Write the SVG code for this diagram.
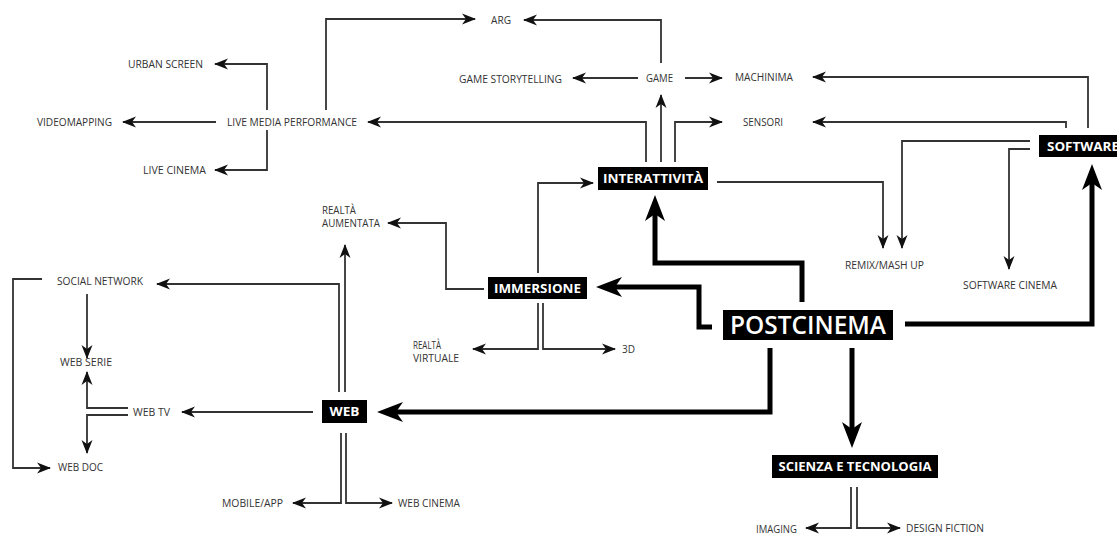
<svg xmlns="http://www.w3.org/2000/svg" width="1117" height="536" viewBox="0 0 1117 536">
<style>
.lbl{font-family:"Open Sans","Liberation Sans",sans-serif;font-size:11px;fill:#333;}
.sm{font-size:10px;}
.box{fill:#000;}
.bt{font-family:"Open Sans","Liberation Sans",sans-serif;font-size:13px;font-weight:bold;fill:#fff;}
.big{font-family:"Open Sans","Liberation Sans",sans-serif;font-size:26px;font-weight:600;fill:#fff;}
.thin{fill:none;stroke:#333;stroke-width:1.8;marker-end:url(#ah);}
.thick{fill:none;stroke:#000;stroke-width:5;marker-end:url(#AH);}
</style>
<defs>
<marker id="ah" markerUnits="userSpaceOnUse" markerWidth="14" markerHeight="11" refX="13" refY="5.5" orient="auto" overflow="visible">
<path d="M0,0 L14,5.5 L0,11 L4,5.5 z" fill="#111"/>
</marker>
<marker id="AH" markerUnits="userSpaceOnUse" markerWidth="26" markerHeight="20" refX="7" refY="10" orient="auto" overflow="visible">
<path d="M0,0 L26,10 L0,20 L7,10 z" fill="#000"/>
</marker>
</defs>
<rect width="1117" height="536" fill="#fff"/>

<g id="connectors">
<path class="thin" d="M267,110 V64 H215"/>
<path class="thin" d="M216,122 H123"/>
<path class="thin" d="M267,130 V170 H215"/>
<path class="thin" d="M326,110 V19 H475"/>
<path class="thin" d="M661,63 V20 H524"/>
<path class="thin" d="M638,78 H573"/>
<path class="thin" d="M685,78 H722"/>
<path class="thin" d="M661,162 V95"/>
<path class="thin" d="M646,162 V122 H368"/>
<path class="thin" d="M675,162 V122 H722"/>
<path class="thin" d="M1088,128 V77 H813"/>
<path class="thin" d="M1066,128 V122 H813"/>
<path class="thin" d="M1030,141 H902 V248"/>
<path class="thin" d="M1030,149 H1009 V269"/>
<path class="thin" d="M717,182 H883 V248"/>
<path class="thin" d="M538,273 V183 H593"/>
<path class="thin" d="M484,289 H446 V223 H388"/>
<path class="thin" d="M538,303 V349 H473"/>
<path class="thin" d="M543,303 V349 H615"/>
<path class="thin" d="M339,392 V284 H157"/>
<path class="thin" d="M345,392 V245"/>
<path class="thin" d="M87,294 V358"/>
<path class="thin" d="M42,279 H13 V468 H50"/>
<path class="thin" d="M313,412 H182"/>
<path class="thin" d="M128,408 H87 V372"/>
<path class="thin" d="M128,415 H87 V453"/>
<path class="thin" d="M341,433 V503 H293"/>
<path class="thin" d="M346,433 V503 H392"/>
<path class="thin" d="M851,487 V528 H806"/>
<path class="thin" d="M857,487 V528 H900"/>
<path class="thick" d="M802,302 V263 H655 V214"/>
<path class="thick" d="M712,327 H699 V287 H615"/>
<path class="thick" d="M905,324 H1092 V183"/>
<path class="thick" d="M770,348 V412 H396"/>
<path class="thick" d="M852,348 V429"/>
</g>

<g id="postcinema"><rect class="box" x="723" y="310" width="170" height="30"/><text class="big" x="808" y="334" text-anchor="middle" textLength="156" lengthAdjust="spacingAndGlyphs">POSTCINEMA</text></g>
<g id="interattivita"><rect class="box" x="598" y="167" width="110" height="23"/><text class="bt" x="653" y="183" text-anchor="middle" textLength="100" lengthAdjust="spacingAndGlyphs">INTERATTIVITÀ</text></g>
<g id="immersione"><rect class="box" x="488" y="277" width="99" height="22"/><text class="bt" x="537.5" y="292.5" text-anchor="middle" textLength="87" lengthAdjust="spacingAndGlyphs">IMMERSIONE</text></g>
<g id="web"><rect class="box" x="322" y="400" width="45" height="23"/><text class="bt" x="344.5" y="416" text-anchor="middle" textLength="30" lengthAdjust="spacingAndGlyphs">WEB</text></g>
<g id="software"><rect class="box" x="1039" y="135" width="90" height="22"/><text class="bt" x="1047" y="150.5" textLength="72" lengthAdjust="spacingAndGlyphs">SOFTWARE</text></g>
<g id="scienza"><rect class="box" x="772" y="455" width="166" height="23"/><text class="bt" x="855" y="471" text-anchor="middle" textLength="153" lengthAdjust="spacingAndGlyphs">SCIENZA E TECNOLOGIA</text></g>

<g id="urban-screen"><text class="lbl" x="128" y="68" textLength="75" lengthAdjust="spacingAndGlyphs">URBAN SCREEN</text></g>
<g id="videomapping"><text class="lbl" x="37" y="126" textLength="75" lengthAdjust="spacingAndGlyphs">VIDEOMAPPING</text></g>
<g id="live-media"><text class="lbl" x="227" y="126" textLength="130" lengthAdjust="spacingAndGlyphs">LIVE MEDIA PERFORMANCE</text></g>
<g id="live-cinema"><text class="lbl" x="143" y="174" textLength="63" lengthAdjust="spacingAndGlyphs">LIVE CINEMA</text></g>
<g id="arg"><text class="lbl" x="491" y="24" textLength="20" lengthAdjust="spacingAndGlyphs">ARG</text></g>
<g id="game-storytelling"><text class="lbl" x="459" y="83" textLength="103" lengthAdjust="spacingAndGlyphs">GAME STORYTELLING</text></g>
<g id="game"><text class="lbl" x="646" y="82" textLength="27" lengthAdjust="spacingAndGlyphs">GAME</text></g>
<g id="machinima"><text class="lbl" x="735" y="81" textLength="58" lengthAdjust="spacingAndGlyphs">MACHINIMA</text></g>
<g id="sensori"><text class="lbl" x="743" y="126" textLength="40" lengthAdjust="spacingAndGlyphs">SENSORI</text></g>
<g id="remix"><text class="lbl" x="845" y="269" textLength="79" lengthAdjust="spacingAndGlyphs">REMIX/MASH UP</text></g>
<g id="software-cinema"><text class="lbl" x="963" y="289" textLength="94" lengthAdjust="spacingAndGlyphs">SOFTWARE CINEMA</text></g>
<g id="realta-aumentata"><text class="lbl sm" x="322" y="214" textLength="34" lengthAdjust="spacingAndGlyphs">REALTÀ</text><text class="lbl sm" x="322" y="227" textLength="58" lengthAdjust="spacingAndGlyphs">AUMENTATA</text></g>
<g id="realta-virtuale"><text class="lbl sm" x="413" y="349" textLength="28" lengthAdjust="spacingAndGlyphs">REALTÀ</text><text class="lbl sm" x="413" y="362" textLength="46" lengthAdjust="spacingAndGlyphs">VIRTUALE</text></g>
<g id="three-d"><text class="lbl sm" x="622" y="353" textLength="13" lengthAdjust="spacingAndGlyphs">3D</text></g>
<g id="social-network"><text class="lbl" x="57" y="285" textLength="86" lengthAdjust="spacingAndGlyphs">SOCIAL NETWORK</text></g>
<g id="web-serie"><text class="lbl" x="60" y="366" textLength="52" lengthAdjust="spacingAndGlyphs">WEB SERIE</text></g>
<g id="web-tv"><text class="lbl" x="133" y="416" textLength="37" lengthAdjust="spacingAndGlyphs">WEB TV</text></g>
<g id="web-doc"><text class="lbl" x="58" y="471" textLength="45" lengthAdjust="spacingAndGlyphs">WEB DOC</text></g>
<g id="mobile-app"><text class="lbl" x="222" y="507" textLength="61" lengthAdjust="spacingAndGlyphs">MOBILE/APP</text></g>
<g id="web-cinema"><text class="lbl" x="398" y="507" textLength="62" lengthAdjust="spacingAndGlyphs">WEB CINEMA</text></g>
<g id="imaging"><text class="lbl" x="756" y="533" textLength="41" lengthAdjust="spacingAndGlyphs">IMAGING</text></g>
<g id="design-fiction"><text class="lbl" x="906" y="532" textLength="78" lengthAdjust="spacingAndGlyphs">DESIGN FICTION</text></g>
</svg>
